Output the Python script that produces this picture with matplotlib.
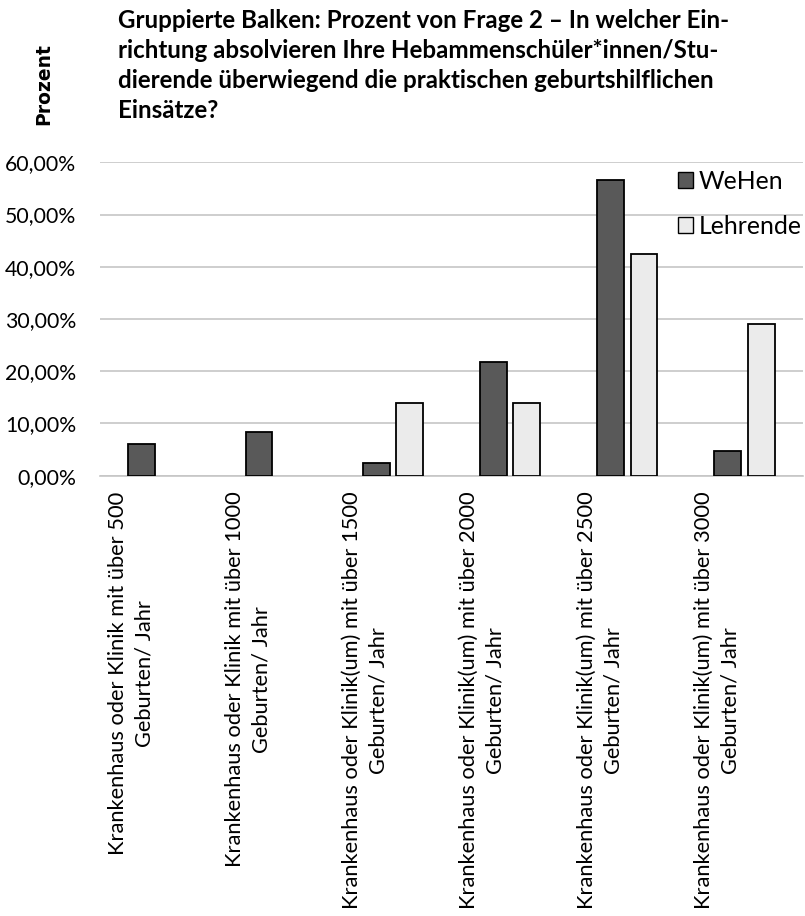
import matplotlib
matplotlib.use("Agg")
import matplotlib.pyplot as plt
from matplotlib.patches import Patch
from matplotlib.transforms import ScaledTranslation
import numpy as np

# ---------------- data ----------------
categories = [
    "Krankenhaus oder Klinik mit über 500\nGeburten/ Jahr",
    "Krankenhaus oder Klinik mit über 1000\nGeburten/ Jahr",
    "Krankenhaus oder Klinik(um) mit über 1500\nGeburten/ Jahr",
    "Krankenhaus oder Klinik(um) mit über 2000\nGeburten/ Jahr",
    "Krankenhaus oder Klinik(um) mit über 2500\nGeburten/ Jahr",
    "Krankenhaus oder Klinik(um) mit über 3000\nGeburten/ Jahr",
]
series_names = ["WeHen", "Lehrende"]
wehen = [6.02, 8.43, 2.41, 21.69, 56.63, 4.82]
lehrende = [0.0, 0.0, 14.0, 14.0, 42.4, 29.0]
yticks = [0, 10, 20, 30, 40, 50, 60]
ytick_labels = ["0,00%", "10,00%", "20,00%", "30,00%", "40,00%", "50,00%", "60,00%"]
title_lines = [
    "Gruppierte Balken: Prozent von Frage 2 \u2013 In welcher Ein-",
    "richtung absolvieren Ihre Hebammenschüler*innen/Stu-",
    "dierende überwiegend die praktischen geburtshilflichen",
    "Einsätze?",
]
ylabel = "Prozent"

# ---------------- styling ----------------
plt.rcParams["font.family"] = ["Lato", "DejaVu Sans"]
W, H = 805, 916
fig = plt.figure(figsize=(W / 100, H / 100), dpi=100)
renderer = fig.canvas.get_renderer()


def size_for(s, target_px, **kw):
    t = fig.text(0, 0, s, fontsize=10, **kw)
    w = t.get_window_extent(renderer).width
    t.remove()
    return 10 * target_px / w


fs_tick = size_for("60,00%", 71)
fs_xlab = size_for(categories[0].split("\n")[0], 365)
fs_leg = size_for("Lehrende", 103)
fs_title = size_for(title_lines[0], 614, fontweight="bold")
fs_ylab = size_for(ylabel, 82, fontweight="bold", family="DejaVu Sans")

c_dark = "#595959"
c_light = "#ebebeb"
c_grid = "#c6c6c6"

ax_left, ax_right = 100, 803
ax_top, ax_bottom = 162.3, 475.7
ax = fig.add_axes([ax_left / W, 1 - ax_bottom / H,
                   (ax_right - ax_left) / W, (ax_bottom - ax_top) / H])

x = np.arange(len(categories))
bw = 0.23
off = 0.143
b1 = ax.bar(x - off, wehen, bw, color=c_dark, edgecolor="black", linewidth=1.3, zorder=3)
b2 = ax.bar(x + off, lehrende, bw, color=c_light, edgecolor="black", linewidth=1.3, zorder=3)
for b in list(b1) + list(b2):
    if b.get_height() == 0:
        b.set_linewidth(0)

ax.set_xlim(-0.5, len(categories) - 0.5)
ax.set_ylim(0, 60)
ax.set_yticks(yticks)
ax.set_yticklabels(ytick_labels, fontsize=fs_tick)
ax.yaxis.grid(True, color=c_grid, linewidth=1.2)
ax.set_axisbelow(True)
for s in ["top", "right", "left"]:
    ax.spines[s].set_visible(False)
ax.spines["bottom"].set_color(c_grid)
ax.spines["bottom"].set_linewidth(1.2)
ax.tick_params(axis="both", length=0)
ax.tick_params(axis="y", pad=17)

ax.set_xticks(x)
ax.set_xticklabels(categories, rotation=90, fontsize=fs_xlab,
                   multialignment="center", linespacing=1.42)
ax.tick_params(axis="x", pad=11.5)
shift = ScaledTranslation(-27.5 / 100, 0, fig.dpi_scale_trans)
for lab in ax.get_xticklabels():
    lab.set_transform(lab.get_transform() + shift)

# legend
fs_leg_px = fs_leg * 100 / 72
handles = [Patch(facecolor=c_dark, edgecolor="black", linewidth=1.0),
           Patch(facecolor=c_light, edgecolor="black", linewidth=1.0)]
fig.legend(handles, series_names, loc="center left",
           bbox_to_anchor=(678 / W, 1 - 204 / H), frameon=False,
           fontsize=fs_leg, borderpad=0, borderaxespad=0,
           handlelength=15 / fs_leg_px, handleheight=15 / fs_leg_px,
           handletextpad=6 / fs_leg_px, labelspacing=0.88)

# title
baselines = [27.5, 57.5, 87.5, 117.5]
for line, yb in zip(title_lines, baselines):
    fig.text(118 / W, 1 - yb / H, line, fontsize=fs_title, fontweight="bold",
             ha="left", va="baseline", color="black")

fig.text(44 / W, 1 - 84 / H, ylabel, rotation=90, fontsize=fs_ylab,
         fontweight="bold", family="DejaVu Sans", ha="center", va="center")

fig.savefig("out.png", dpi=100)
